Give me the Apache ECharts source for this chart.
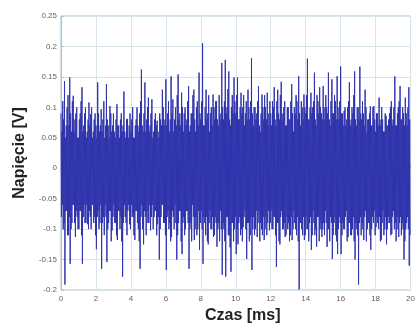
<!DOCTYPE html>
<html>
<head>
<meta charset="utf-8">
<script src="https://cdn.jsdelivr.net/npm/echarts@6/dist/echarts.min.js"></script>
<style>html,body{margin:0;padding:0;background:#fff}#c{width:418px;height:329px}</style>
</head>
<body>
<div id="c"></div>
<script>
// Time step between samples [ms]; positive-going samples at even steps, negative at odd steps
const sampleStep = 0.025;
const xTicks = [0, 2, 4, 6, 8, 10, 12, 14, 16, 18, 20];
const yTicks = [-0.2, -0.15, -0.1, -0.05, 0, 0.05, 0.1, 0.15, 0.2, 0.25];

// Upper excursions (V), one every 0.05 ms starting at 0 ms
const upper = [
 0.09,0.06, 0.11,0.08, 0.143,0.05, 0.07,0.10, 0.12,0.07, 0.149,0.09, 0.06,0.11, 0.119,0.06, 0.08,0.09, 0.10,0.05,
 0.05,0.08, 0.09,0.11, 0.133,0.06, 0.07,0.09, 0.10,0.05, 0.06,0.08, 0.108,0.07, 0.089,0.10, 0.05,0.06, 0.08,0.09,
 0.07,0.05, 0.141,0.09, 0.06,0.07, 0.097,0.06, 0.08,0.11, 0.05,0.07, 0.138,0.08, 0.07,0.05, 0.102,0.09, 0.06,0.07,
 0.09,0.06, 0.05,0.08, 0.105,0.07, 0.07,0.05, 0.08,0.09, 0.06,0.07, 0.126,0.06, 0.05,0.08, 0.081,0.05, 0.07,0.09,
 0.06,0.08, 0.10,0.05, 0.05,0.07, 0.08,0.10, 0.07,0.06, 0.09,0.11, 0.162,0.07, 0.06,0.09, 0.141,0.06, 0.08,0.10,
 0.116,0.06, 0.07,0.09, 0.113,0.05, 0.06,0.08, 0.09,0.07, 0.078,0.06, 0.05,0.09, 0.08,0.07, 0.129,0.10, 0.07,0.08,
 0.146,0.07, 0.09,0.11, 0.06,0.08, 0.151,0.09, 0.113,0.06, 0.08,0.10, 0.07,0.12, 0.154,0.08, 0.09,0.07, 0.124,0.10,
 0.06,0.09, 0.10,0.07, 0.08,0.11, 0.135,0.06, 0.07,0.09, 0.09,0.12, 0.129,0.08, 0.06,0.10, 0.11,0.07, 0.157,0.09,
 0.08,0.11, 0.205,0.07, 0.07,0.10, 0.129,0.08, 0.09,0.12, 0.06,0.09, 0.10,0.07, 0.121,0.10, 0.08,0.11, 0.11,0.08,
 0.07,0.12, 0.09,0.08, 0.173,0.10, 0.08,0.11, 0.178,0.09, 0.10,0.13, 0.159,0.08, 0.07,0.10, 0.12,0.09, 0.149,0.11,
 0.09,0.12, 0.149,0.08, 0.08,0.10, 0.124,0.09, 0.10,0.12, 0.07,0.09, 0.11,0.08, 0.129,0.10, 0.08,0.11, 0.181,0.09,
 0.07,0.10, 0.10,0.08, 0.09,0.11, 0.135,0.07, 0.06,0.09, 0.121,0.10, 0.08,0.12, 0.10,0.08, 0.124,0.09, 0.07,0.11,
 0.09,0.07, 0.11,0.10, 0.133,0.08, 0.07,0.11, 0.129,0.09, 0.08,0.12, 0.142,0.08, 0.09,0.10, 0.11,0.07, 0.07,0.10,
 0.10,0.08, 0.08,0.11, 0.138,0.09, 0.06,0.10, 0.09,0.12, 0.11,0.08, 0.151,0.09, 0.07,0.11, 0.10,0.08, 0.121,0.10,
 0.09,0.12, 0.18,0.08, 0.08,0.10, 0.124,0.09, 0.10,0.11, 0.157,0.08, 0.07,0.12, 0.11,0.09, 0.133,0.10, 0.09,0.08,
 0.135,0.10, 0.08,0.12, 0.10,0.09, 0.157,0.08, 0.07,0.11, 0.146,0.09, 0.09,0.12, 0.11,0.08, 0.151,0.10, 0.08,0.11,
 0.167,0.09, 0.09,0.07, 0.094,0.10, 0.07,0.08, 0.10,0.11, 0.141,0.07, 0.08,0.10, 0.09,0.12, 0.159,0.08, 0.07,0.10,
 0.10,0.08, 0.167,0.09, 0.08,0.11, 0.09,0.07, 0.129,0.10, 0.06,0.08, 0.08,0.09, 0.102,0.07, 0.07,0.10, 0.102,0.08,
 0.06,0.09, 0.09,0.07, 0.116,0.08, 0.07,0.10, 0.08,0.06, 0.06,0.09, 0.086,0.07, 0.07,0.08, 0.09,0.10, 0.11,0.07,
 0.08,0.10, 0.151,0.07, 0.07,0.09, 0.10,0.11, 0.135,0.08, 0.08,0.10, 0.09,0.07, 0.116,0.09, 0.07,0.10, 0.133,0.08
];

// Lower excursions (V), one every 0.05 ms starting at 0.025 ms
const lower = [
 -0.08,-0.06, -0.10,-0.09, -0.191,-0.07, -0.07,-0.11, -0.11,-0.08, -0.157,-0.10, -0.09,-0.06, -0.06,-0.09, -0.113,-0.07, -0.08,-0.10,
 -0.10,-0.07, -0.07,-0.11, -0.157,-0.08, -0.06,-0.09, -0.09,-0.06, -0.092,-0.10, -0.07,-0.08, -0.10,-0.06, -0.06,-0.09, -0.08,-0.11,
 -0.133,-0.08, -0.07,-0.10, -0.09,-0.06, -0.165,-0.09, -0.08,-0.11, -0.06,-0.08, -0.154,-0.10, -0.09,-0.07, -0.07,-0.12, -0.102,-0.08,
 -0.06,-0.09, -0.09,-0.11, -0.118,-0.07, -0.07,-0.10, -0.08,-0.12, -0.178,-0.09, -0.06,-0.08, -0.09,-0.11, -0.07,-0.06, -0.092,-0.10,
 -0.06,-0.08, -0.08,-0.11, -0.118,-0.07, -0.07,-0.09, -0.10,-0.12, -0.165,-0.08, -0.06,-0.10, -0.125,-0.07, -0.08,-0.11, -0.07,-0.09,
 -0.09,-0.06, -0.102,-0.08, -0.06,-0.10, -0.08,-0.07, -0.07,-0.11, -0.092,-0.08, -0.15,-0.10, -0.08,-0.06, -0.06,-0.09, -0.09,-0.11,
 -0.167,-0.08, -0.07,-0.10, -0.09,-0.12, -0.113,-0.07, -0.08,-0.10, -0.06,-0.09, -0.15,-0.11, -0.09,-0.07, -0.07,-0.12, -0.141,-0.09,
 -0.08,-0.11, -0.10,-0.07, -0.07,-0.09, -0.165,-0.10, -0.09,-0.12, -0.06,-0.08, -0.118,-0.10, -0.08,-0.11, -0.10,-0.07, -0.134,-0.09,
 -0.07,-0.10, -0.157,-0.08, -0.09,-0.11, -0.08,-0.12, -0.125,-0.09, -0.07,-0.10, -0.10,-0.08, -0.113,-0.11, -0.08,-0.09, -0.129,-0.10,
 -0.09,-0.12, -0.07,-0.10, -0.175,-0.09, -0.10,-0.12, -0.178,-0.08, -0.08,-0.11, -0.11,-0.13, -0.17,-0.09, -0.09,-0.12, -0.10,-0.08,
 -0.141,-0.10, -0.125,-0.09, -0.08,-0.11, -0.10,-0.12, -0.097,-0.08, -0.07,-0.10, -0.149,-0.09, -0.09,-0.12, -0.11,-0.08, -0.167,-0.10,
 -0.08,-0.11, -0.10,-0.07, -0.113,-0.09, -0.07,-0.12, -0.09,-0.10, -0.11,-0.08, -0.118,-0.10, -0.08,-0.11, -0.09,-0.07, -0.102,-0.09,
 -0.07,-0.10, -0.10,-0.08, -0.08,-0.11, -0.162,-0.09, -0.09,-0.12, -0.125,-0.08, -0.07,-0.10, -0.10,-0.09, -0.113,-0.11, -0.08,-0.10,
 -0.09,-0.12, -0.11,-0.08, -0.118,-0.10, -0.07,-0.09, -0.10,-0.11, -0.08,-0.12, -0.199,-0.09, -0.09,-0.10, -0.11,-0.08, -0.118,-0.11,
 -0.08,-0.10, -0.10,-0.12, -0.09,-0.08, -0.134,-0.11, -0.07,-0.09, -0.11,-0.10, -0.129,-0.08, -0.08,-0.12, -0.10,-0.09, -0.113,-0.10,
 -0.09,-0.11, -0.07,-0.09, -0.129,-0.10, -0.10,-0.12, -0.08,-0.09, -0.149,-0.11, -0.09,-0.08, -0.11,-0.12, -0.141,-0.10, -0.08,-0.09,
 -0.141,-0.11, -0.09,-0.10, -0.10,-0.08, -0.07,-0.12, -0.113,-0.09, -0.09,-0.11, -0.11,-0.10, -0.08,-0.12, -0.15,-0.09, -0.10,-0.11,
 -0.191,-0.09, -0.08,-0.11, -0.09,-0.10, -0.118,-0.08, -0.07,-0.12, -0.10,-0.09, -0.09,-0.11, -0.134,-0.10, -0.08,-0.09, -0.07,-0.11,
 -0.097,-0.08, -0.09,-0.10, -0.08,-0.12, -0.118,-0.09, -0.07,-0.11, -0.10,-0.08, -0.125,-0.10, -0.08,-0.09, -0.09,-0.11, -0.108,-0.08,
 -0.07,-0.10, -0.09,-0.12, -0.10,-0.08, -0.113,-0.09, -0.08,-0.11, -0.09,-0.10, -0.15,-0.12, -0.10,-0.09, -0.08,-0.10, -0.16,-0.11
];

const signal = [];
for (let k = 0; k < upper.length; k++) {
  signal.push([(2 * k) * sampleStep, upper[k]]);
  signal.push([(2 * k + 1) * sampleStep, lower[k]]);
}

const chart = echarts.init(document.getElementById('c'), null, {renderer: 'canvas'});
const labelFont = {fontFamily: 'Liberation Sans, Arial, sans-serif', fontSize: 8, color: '#5f5f5f'};
const gridLine = {show: true, lineStyle: {color: '#d8e4ec', width: 1}};
chart.setOption({
  animation: false,
  backgroundColor: '#ffffff',
  grid: {left: 61, right: 3, top: 16, bottom: 35, show: true, borderColor: '#a9c3d3', borderWidth: 1},
  xAxis: {
    type: 'value', min: xTicks[0], max: xTicks[xTicks.length - 1], interval: 2,
    name: 'Czas [ms]', nameLocation: 'middle', nameGap: 18,
    nameTextStyle: {fontFamily: 'Liberation Sans, Arial, sans-serif', fontSize: 16, fontWeight: 'bold', color: '#222', padding: [0, 0, 0, 14]},
    axisLine: {show: true, lineStyle: {color: '#a9c3d3'}},
    axisTick: {show: true, inside: true, length: 3, lineStyle: {color: '#a9c3d3'}},
    axisLabel: Object.assign({margin: 5, formatter: v => String(v)}, labelFont),
    splitLine: gridLine
  },
  yAxis: {
    type: 'value', min: yTicks[0], max: yTicks[yTicks.length - 1], interval: 0.05,
    name: 'Napięcie [V]', nameLocation: 'middle', nameGap: 27,
    nameTextStyle: {fontFamily: 'Liberation Sans, Arial, sans-serif', fontSize: 16, fontWeight: 'bold', color: '#222'},
    axisLine: {show: true, lineStyle: {color: '#a9c3d3'}},
    axisTick: {show: true, inside: true, length: 3, lineStyle: {color: '#a9c3d3'}},
    axisLabel: Object.assign({margin: 4, formatter: v => String(+v.toFixed(2))}, labelFont),
    splitLine: gridLine
  },
  series: [{
    type: 'line', data: signal, showSymbol: false, symbol: 'none', sampling: null,
    lineStyle: {color: '#3034ac', width: 1}, z: 2
  }]
});
</script>
</body>
</html>
